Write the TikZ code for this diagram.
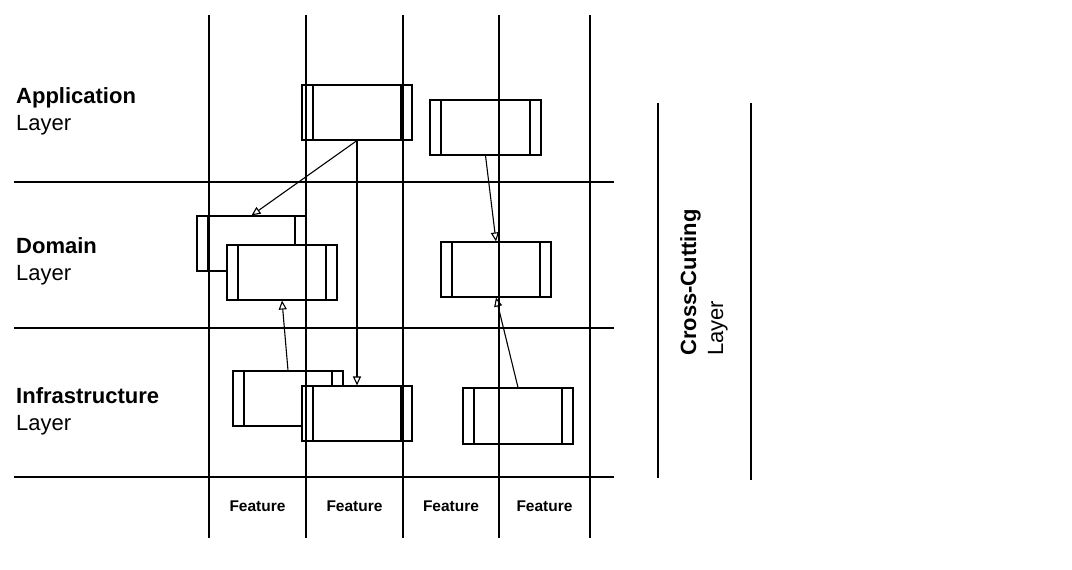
\documentclass[tikz,border=0pt]{standalone}
\usepackage{fontspec}
\setmainfont{Liberation Sans}
\usetikzlibrary{arrows.meta}
\tikzset{
  comp/.style={draw, line width=1.1pt, fill=white, minimum width=110pt, minimum height=55pt, inner sep=0pt,
    path picture={
      \draw[line width=1.1pt] ([xshift=11pt]path picture bounding box.south west) -- ([xshift=11pt]path picture bounding box.north west);
      \draw[line width=1.1pt] ([xshift=-11pt]path picture bounding box.south east) -- ([xshift=-11pt]path picture bounding box.north east);
    }},
  gridline/.style={line width=1.4pt},
  dep/.style={line width=1.1pt, -{Triangle[open,length=9pt,width=8pt]}},
  lbl/.style={anchor=base west, inner sep=0pt, align=left, font=\fontsize{22}{27}\selectfont},
  feat/.style={inner sep=0pt, font=\fontsize{15.5}{18}\selectfont\bfseries}
}
\begin{document}
\begin{tikzpicture}[x=1pt,y=-1pt]
\useasboundingbox (0,0) rectangle (1072,570);
% components (back ones first)
\node[comp] (a1) at (357,112.5) {};
\node[comp, minimum width=111pt] (a2) at (485.5,127.5) {};
\node[comp, minimum width=109pt] (d1) at (251.5,243.5) {};
\node[comp] (d2) at (282,272.5) {};
\node[comp] (d3) at (496,269.5) {};
\node[comp] (i1) at (288,398.5) {};
\node[comp] (i2) at (357,413.5) {};
\node[comp, minimum height=56pt] (i3) at (518,416) {};
% grid
\foreach \x in {209,306,403,499,590} \draw[gridline] (\x,15) -- (\x,538);
\foreach \y in {182,328,477} \draw[gridline] (14,\y) -- (614,\y);
% cross-cutting band
\draw[gridline] (658,103) -- (658,478);
\draw[gridline] (751,103) -- (751,480);
% labels
\node[lbl] (lapp) at (16,130) {\textbf{Application}\\Layer};
\node[lbl] (ldom) at (16,280) {\textbf{Domain}\\Layer};
\node[lbl] (linf) at (16,430) {\textbf{Infrastructure}\\Layer};
\node[inner sep=0pt, align=left, font=\fontsize{22}{27}\selectfont, rotate=90, anchor=north west] (lcc) at (680,356) {\textbf{Cross-Cutting}\\Layer};
\node[feat] (f1) at (257.5,506) {Feature};
\node[feat] (f2) at (354.5,506) {Feature};
\node[feat] (f3) at (451,506) {Feature};
\node[feat] (f4) at (544.5,506) {Feature};
% dependencies
\draw[dep] (a1.south) -- (d1.north);
\draw[dep] (a1.south) -- (i2.north);
\draw[dep] (a2.south) -- (d3.north);
\draw[dep] (i1.north) -- (d2.south);
\draw[dep] (i3.north) -- (d3.south);
\end{tikzpicture}
\end{document}
